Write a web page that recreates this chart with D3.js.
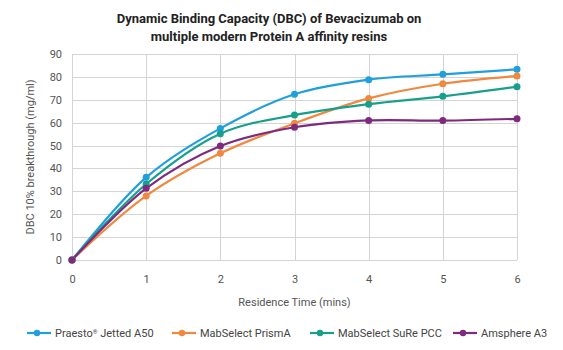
<!DOCTYPE html>
<html>
<head>
<meta charset="utf-8">
<script src="https://cdn.jsdelivr.net/npm/d3@7"></script>
<style>
  body { margin: 0; background: #fff; }
  svg { font-family: Roboto, "Noto Sans", sans-serif; }
</style>
</head>
<body>
<div id="chart-container"></div>
<script>
// residence time (mins)
const times = [0, 1, 2, 3, 4, 5, 6];
const yTicks = [0, 10, 20, 30, 40, 50, 60, 70, 80, 90];

// DBC 10% breakthrough (mg/ml)
const praesto = [0, 36.1, 57.5, 72.4, 78.8, 81.1, 83.3];
const prismA = [0, 28.0, 46.6, 59.7, 70.6, 77.0, 80.4];
const surePcc = [0, 33.2, 55.2, 63.3, 68.1, 71.5, 75.7];
const amsphere = [0, 31.3, 49.8, 58.0, 61.0, 60.9, 61.7];

const seriesNames = ["Praesto|\u00AE| Jetted A50", "MabSelect PrismA", "MabSelect SuRe PCC", "Amsphere A3"];
const seriesColors = ["#1f9fdc", "#f0883e", "#16a08c", "#7e2a7e"];

const width = 563;
const height = 350;
const marginTop = 54;
const marginRight = 46;
const marginBottom = 90;
const marginLeft = 72;

const series = [praesto, prismA, surePcc, amsphere].map((vals, i) => ({
  name: seriesNames[i],
  color: seriesColors[i],
  values: vals.map((v, j) => ({ t: times[j], v: v }))
}));

const x = d3.scaleLinear()
    .domain([0, 6])
    .range([marginLeft, width - marginRight]);

const y = d3.scaleLinear()
    .domain([0, 90])
    .range([height - marginBottom, marginTop]);

const svg = d3.select("#chart-container").append("svg")
    .attr("width", width)
    .attr("height", height)
    .attr("viewBox", [0, 0, width, height]);

// title
svg.append("text")
    .attr("x", 269)
    .attr("y", 23)
    .attr("text-anchor", "middle")
    .attr("font-size", 13)
    .attr("font-weight", "bold")
    .attr("fill", "#222")
    .text("Dynamic Binding Capacity (DBC) of Bevacizumab on");
svg.append("text")
    .attr("x", 269)
    .attr("y", 41)
    .attr("text-anchor", "middle")
    .attr("font-size", 13)
    .attr("font-weight", "bold")
    .attr("fill", "#222")
    .text("multiple modern Protein A affinity resins");

// grid
svg.append("g")
    .attr("stroke", "#d4d4d4")
    .attr("stroke-width", 1)
  .selectAll("line.h")
  .data(yTicks)
  .join("line")
    .attr("x1", marginLeft)
    .attr("x2", width - marginRight)
    .attr("y1", d => Math.round(y(d)) + 0.5)
    .attr("y2", d => Math.round(y(d)) + 0.5);

svg.append("g")
    .attr("stroke", "#d4d4d4")
    .attr("stroke-width", 1)
  .selectAll("line.v")
  .data(times)
  .join("line")
    .attr("x1", d => Math.round(x(d)) + 0.5)
    .attr("x2", d => Math.round(x(d)) + 0.5)
    .attr("y1", y(0))
    .attr("y2", y(90));

// axes
const xAxis = svg.append("g")
    .attr("transform", `translate(0,${height - marginBottom})`)
    .call(d3.axisBottom(x).tickValues(times).tickFormat(d3.format("d")).tickSize(0).tickPadding(15));
xAxis.select(".domain").remove();
xAxis.selectAll("text").attr("font-size", 11).attr("fill", "#555").attr("font-family", "Roboto");

const yAxis = svg.append("g")
    .attr("transform", `translate(${marginLeft},0)`)
    .call(d3.axisLeft(y).tickValues(yTicks).tickSize(0).tickPadding(10));
yAxis.select(".domain").remove();
yAxis.selectAll("text").attr("font-size", 11).attr("fill", "#555").attr("font-family", "Roboto");

svg.append("text")
    .attr("x", (x(0) + x(6)) / 2)
    .attr("y", 306)
    .attr("text-anchor", "middle")
    .attr("font-size", 11)
    .attr("fill", "#555")
    .text("Residence Time (mins)");

svg.append("text")
    .attr("transform", `translate(34,${(y(0) + y(90)) / 2}) rotate(-90)`)
    .attr("text-anchor", "middle")
    .attr("font-size", 11)
    .attr("fill", "#555")
    .text("DBC 10% breakthrough (mg/ml)");

// lines
const line = d3.line()
    .curve(d3.curveCatmullRom.alpha(0.5))
    .x(d => x(d.t))
    .y(d => y(d.v));

svg.append("g")
  .selectAll("path")
  .data(series)
  .join("path")
    .attr("fill", "none")
    .attr("stroke", d => d.color)
    .attr("stroke-width", 2.2)
    .attr("stroke-linejoin", "round")
    .attr("d", d => line(d.values));

series.forEach(s => {
  svg.append("g")
    .selectAll("circle")
    .data(s.values)
    .join("circle")
      .attr("cx", d => x(d.t))
      .attr("cy", d => y(d.v))
      .attr("r", 3.5)
      .attr("fill", s.color);
});

// legend
const legendX = [27, 172, 310, 453];
const legend = svg.append("g")
    .attr("transform", "translate(0,333)");
series.forEach((s, i) => {
  const g = legend.append("g").attr("transform", `translate(${legendX[i]},0)`);
  g.append("line")
      .attr("x1", 0).attr("x2", 24)
      .attr("stroke", s.color)
      .attr("stroke-width", 2.2);
  g.append("circle")
      .attr("cx", 10)
      .attr("r", 3.2)
      .attr("fill", s.color);
  const t = g.append("text")
      .attr("x", 28)
      .attr("dy", "0.35em")
      .attr("font-size", 11)
      .attr("fill", "#444");
  s.name.split("|").forEach((part, k) => {
    const sp = t.append("tspan").text(part);
    if (k === 1) sp.attr("font-size", 6).attr("dy", "-0.5em");
    if (k === 2) sp.attr("dy", "0.3em");
  });
});
</script>
</body>
</html>
